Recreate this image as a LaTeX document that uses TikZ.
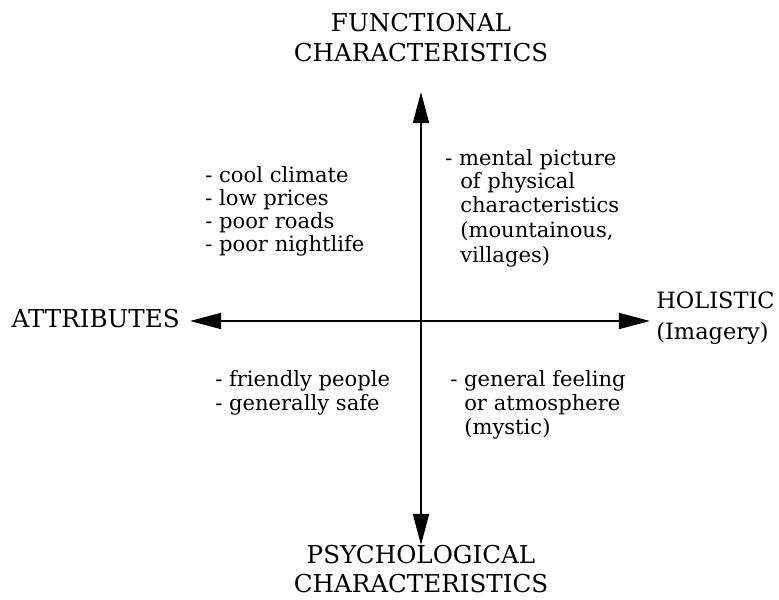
\documentclass[tikz,border=0pt]{standalone}
\usepackage{fontspec}
\setmainfont{DejaVu Serif}
\usetikzlibrary{arrows.meta}

\begin{document}
\begin{tikzpicture}[x=0.025cm, y=-0.025cm,
  axis/.style={line width=1.4pt, {Triangle[length=0.78cm, width=0.4cm]}-{Triangle[length=0.78cm, width=0.4cm]}},
  heading/.style={font=\fontsize{17.5}{20}\selectfont, inner sep=0pt, anchor=base},
  side/.style={font=\fontsize{16}{19}\selectfont, inner sep=0pt, anchor=base west},
  item/.style={font=\fontsize{15}{18}\selectfont, inner sep=0pt, anchor=base west}]

\useasboundingbox (0,0) rectangle (779,600);

% axis ends
\coordinate (north) at (421,92);
\coordinate (south) at (421,545);
\coordinate (west) at (190,321);
\coordinate (east) at (650,321);

\draw[axis] (south) -- (north);
\draw[axis] (west) -- (east);

% axis labels
\node[heading] (fun1) at (421,31) {FUNCTIONAL};
\node[heading] (fun2) at (421,61) {CHARACTERISTICS};

\node[heading] (psy1) at (421,563) {PSYCHOLOGICAL};
\node[heading] (psy2) at (421,592) {CHARACTERISTICS};

\node[heading, anchor=base east] (attr) at (180,327) {ATTRIBUTES};

\node[side] (hol1) at (656,308) {HOLISTIC};
\node[side] (hol2) at (656,339) {(Imagery)};

% upper left
\node[item] (ul1) at (205,182) {- cool climate};
\node[item] (ul2) at (205,205) {- low prices};
\node[item] (ul3) at (205,228) {- poor roads};
\node[item] (ul4) at (205,251) {- poor nightlife};

% upper right
\node[item] (ur1) at (445,165) {- mental picture};
\node[item] (ur2) at (460,188) {of physical};
\node[item] (ur3) at (460,212) {characteristics};
\node[item] (ur4) at (460,237) {(mountainous,};
\node[item] (ur5) at (460,262) {villages)};

% lower left
\node[item] (ll1) at (215,386) {- friendly people};
\node[item] (ll2) at (215,410) {- generally safe};

% lower right
\node[item] (lr1) at (450,386) {- general feeling};
\node[item] (lr2) at (464,410) {or atmosphere};
\node[item] (lr3) at (464,434) {(mystic)};

\end{tikzpicture}
\end{document}
